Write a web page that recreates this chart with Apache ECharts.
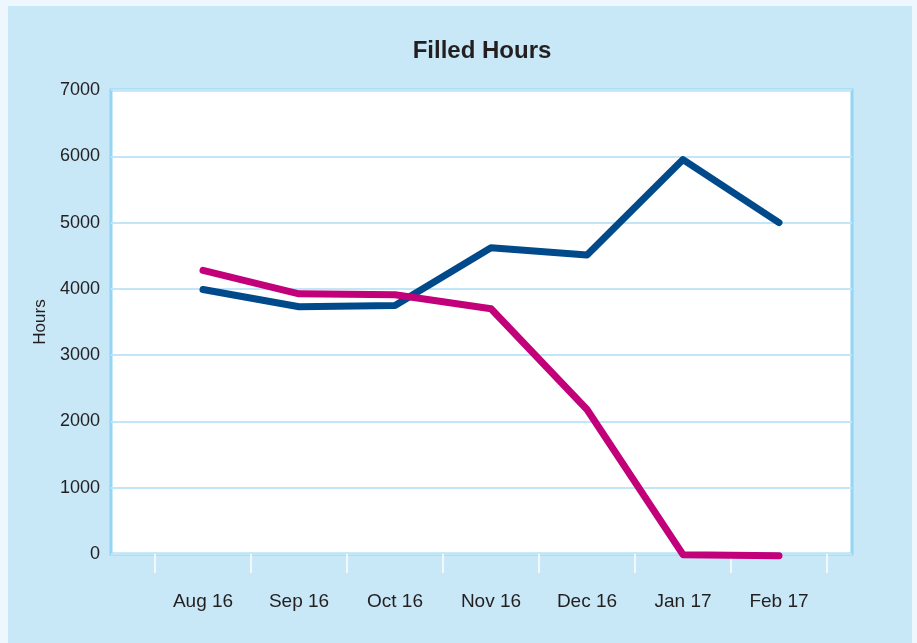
<!DOCTYPE html>
<html>
<head>
<meta charset="utf-8">
<script src="https://cdn.jsdelivr.net/npm/echarts@6/dist/echarts.min.js"></script>
<style>
    body { margin: 0; background: #edf7fd; }
    #panel { position: absolute; left: 8px; top: 6px; width: 904px; height: 637px; background: #c8e7f7; }
    #main { position: absolute; left: 0; top: 0; width: 917px; height: 643px; }
</style>
</head>
<body>
<div id="panel"></div>
<div id="main"></div>
<script>
// months on the x axis
const months = ['Aug 16', 'Sep 16', 'Oct 16', 'Nov 16', 'Dec 16', 'Jan 17', 'Feb 17'];
// blue line
const blueHours = [3990, 3730, 3750, 4620, 4510, 5950, 5000];
// magenta line
const pinkHours = [4280, 3925, 3910, 3700, 2180, -10, -25];
// y axis
const yMin = 0;
const yMax = 7000;
const yStep = 1000;

const font = '"Liberation Sans", Arial, sans-serif';

const chart = echarts.init(document.getElementById('main'));

const option = {
    backgroundColor: 'transparent',
    animation: false,
    title: {
        text: 'Filled Hours',
        left: 482,
        top: 39,
        padding: 0,
        textAlign: 'center',
        textStyle: { fontFamily: font, fontSize: 24, fontWeight: 'bold', color: '#231f20' }
    },
    grid: [
        // white plot box
        { left: 111, right: 65, top: 90, bottom: 89, show: true, backgroundColor: '#fff', borderColor: '#93d5f2', borderWidth: 3 },
        // the months sit between the inner ticks
        { left: 155, right: 90, top: 90, bottom: 89 }
    ],
    xAxis: [
        { gridIndex: 0, type: 'category', data: months, show: false },
        {
            gridIndex: 1,
            type: 'category',
            data: months,
            boundaryGap: true,
            axisLine: { show: false },
            axisTick: { show: true, length: 19, lineStyle: { color: '#ffffff', width: 1.5 } },
            axisLabel: { margin: 38, fontFamily: font, fontSize: 19, color: '#231f20' }
        }
    ],
    yAxis: [
        {
            gridIndex: 0,
            type: 'value',
            min: yMin,
            max: yMax,
            interval: yStep,
            name: 'Hours',
            nameLocation: 'middle',
            nameGap: 61,
            nameRotate: 90,
            nameTextStyle: { fontFamily: font, fontSize: 17, color: '#231f20' },
            axisLine: { show: false },
            axisTick: { show: false },
            axisLabel: { margin: 11, fontFamily: font, fontSize: 18, color: '#231f20', formatter: v => String(v) },
            splitLine: { lineStyle: { color: '#c2e6f8', width: 2 } }
        },
        { gridIndex: 1, type: 'value', min: yMin, max: yMax, interval: yStep, show: false, splitLine: { show: false } }
    ],
    series: [
        {
            name: 'Blue',
            type: 'line',
            xAxisIndex: 1,
            yAxisIndex: 1,
            data: blueHours,
            showSymbol: false,
            clip: false,
            lineStyle: { color: '#004a8c', width: 7, cap: 'round', join: 'round' },
            z: 3
        },
        {
            name: 'Pink',
            type: 'line',
            xAxisIndex: 1,
            yAxisIndex: 1,
            data: pinkHours,
            showSymbol: false,
            clip: false,
            lineStyle: { color: '#c1007a', width: 7, cap: 'round', join: 'round' },
            z: 4
        }
    ]
};

chart.setOption(option);
</script>
</body>
</html>
